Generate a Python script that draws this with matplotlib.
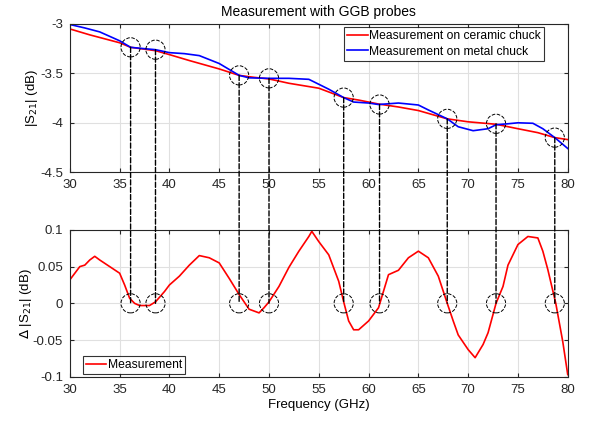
import matplotlib
matplotlib.use("Agg")
import matplotlib.pyplot as plt
from matplotlib.patches import ConnectionPatch

# top panel: |S21| on the two chucks
freq_ceramic = [30, 32, 35, 36.1, 38.6, 40, 42, 45, 47, 48.5, 50, 52, 55, 57.5,
                59, 60, 61, 63, 65, 67.9, 70, 72.8, 75, 77, 78.7, 80]
s21_ceramic = [-3.05, -3.11, -3.19, -3.236, -3.27, -3.31, -3.37, -3.455, -3.52,
               -3.54, -3.556, -3.6, -3.65, -3.745, -3.77, -3.79, -3.81, -3.84,
               -3.876, -3.96, -3.99, -4.015, -4.06, -4.1, -4.15, -4.17]
freq_metal = [30, 31.5, 33, 35, 36.1, 37.5, 38.6, 40, 41.5, 43, 44, 45, 46, 47,
              48, 50, 52, 54, 55, 56, 57.5, 58.5, 60, 61, 63, 65, 66, 67.9,
              69, 70.5, 72, 72.8, 74, 75, 76.5, 77.5, 78.7, 80]
s21_metal = [-3.005, -3.04, -3.08, -3.17, -3.236, -3.25, -3.26, -3.29, -3.3,
             -3.32, -3.36, -3.4, -3.46, -3.52, -3.545, -3.55, -3.55, -3.56,
             -3.61, -3.66, -3.745, -3.79, -3.8, -3.815, -3.8, -3.82, -3.87,
             -3.96, -4.04, -4.08, -4.06, -4.02, -4.01, -4.0, -4.005, -4.06,
             -4.15, -4.26]

# bottom panel: difference
freq_delta = [30, 30.5, 31, 31.5, 32, 32.5, 33, 34, 35, 35.5, 36, 36.5, 37, 38,
              38.6, 39.5, 40, 41, 42, 43, 44, 45, 46, 47, 48, 49, 49.5, 50, 51,
              52, 53, 54, 54.3, 55, 56, 57, 57.5, 58, 58.5, 59, 60, 61, 62, 63,
              64, 65, 66, 67, 67.9, 68.5, 69, 70, 70.7, 71.5, 72, 72.8, 73.5,
              74, 75, 76, 77, 77.5, 78, 78.8, 79.5, 80]
delta_s21 = [0.032, 0.041, 0.05, 0.052, 0.059, 0.064, 0.059, 0.05, 0.041, 0.025,
             0.007, 0.0, -0.003, -0.003, 0.002, 0.016, 0.025, 0.037, 0.052,
             0.065, 0.062, 0.055, 0.034, 0.012, -0.008, -0.013, -0.006, 0.002,
             0.023, 0.049, 0.071, 0.091, 0.098, 0.084, 0.066, 0.03, 0.002,
             -0.024, -0.036, -0.036, -0.024, -0.006, 0.039, 0.045, 0.062, 0.071,
             0.062, 0.037, 0.0, -0.024, -0.043, -0.063, -0.074, -0.056, -0.04,
             0.0, 0.023, 0.052, 0.08, 0.091, 0.089, 0.071, 0.046, 0.0, -0.052,
             -0.097]

# marked crossing points
mark_freq = [36.1, 38.6, 47.0, 50.0, 57.5, 61.1, 67.9, 72.8, 78.7]
mark_s21 = [-3.236, -3.26, -3.52, -3.55, -3.745, -3.815, -3.96, -4.01, -4.15]

plt.rcParams['font.family'] = ['Liberation Sans', 'DejaVu Sans']
plt.rcParams['axes.unicode_minus'] = False
plt.rcParams['font.size'] = 9.5

fig = plt.figure(figsize=(5.92, 4.21), dpi=100)
ax1 = fig.add_axes([0.118, 0.591, 0.841, 0.352])
ax2 = fig.add_axes([0.118, 0.105, 0.841, 0.349])

ax1.plot(freq_ceramic, s21_ceramic, color='red', lw=1.2,
         label='Measurement on ceramic chuck')
ax1.plot(freq_metal, s21_metal, color='blue', lw=1.2,
         label='Measurement on metal chuck')
ax1.set_xlim(30, 80)
ax1.set_ylim(-4.5, -3)
ax1.set_yticks([-4.5, -4, -3.5, -3])
ax1.set_yticklabels(['-4.5', '-4', '-3.5', '-3'])
ax1.set_ylabel('|S$_{21}$| (dB)', labelpad=0)
ax1.set_title('Measurement with GGB probes', fontsize=10, pad=6)
leg1 = ax1.legend(loc='upper right', bbox_to_anchor=(0.952, 0.98),
                  borderaxespad=0, fancybox=False, edgecolor='black',
                  handlelength=1.7, borderpad=0.25, labelspacing=0.3,
                  handletextpad=0.1, fontsize=8.7)
leg1.get_frame().set_linewidth(0.8)

ax2.plot(freq_delta, delta_s21, color='red', lw=1.2, label='Measurement')
ax2.set_xlim(30, 80)
ax2.set_ylim(-0.1, 0.1)
ax2.set_yticks([-0.1, -0.05, 0, 0.05, 0.1])
ax2.set_yticklabels(['-0.1', '-0.05', '0', '0.05', '0.1'])
ax2.set_ylabel('$\\Delta$ |S$_{21}$| (dB)', labelpad=-1)
ax2.set_xlabel('Frequency (GHz)', labelpad=2)
leg2 = ax2.legend(loc='lower left', bbox_to_anchor=(0.026, 0.02),
                  borderaxespad=0, fancybox=False, edgecolor='black',
                  handlelength=1.7, borderpad=0.25, handletextpad=0.1,
                  fontsize=8.7)
leg2.get_frame().set_linewidth(0.8)

for ax in (ax1, ax2):
    ax.set_xticks(range(30, 81, 5))
    ax.grid(True, color='#e0e0e0', lw=0.8)
    ax.set_axisbelow(True)
    ax.tick_params(direction='in', top=True, right=True, length=3, pad=5,
                   colors='#262626', labelcolor='#262626')
    for sp in ax.spines.values():
        sp.set_color('#262626')
        sp.set_linewidth(0.8)

ax1.scatter(mark_freq, mark_s21, s=190, facecolors='none', edgecolors='black',
            linestyle='--', linewidths=0.7, zorder=5)
ax2.scatter(mark_freq, [0.0] * len(mark_freq), s=190, facecolors='none',
            edgecolors='black', linestyle='--', linewidths=0.7, zorder=5)

for f, s in zip(mark_freq, mark_s21):
    con = ConnectionPatch(xyA=(f, s), coordsA=ax1.transData,
                          xyB=(f, 0.0), coordsB=ax2.transData,
                          color='black', linestyle='--', lw=1.0)
    fig.add_artist(con)

fig.savefig('out.png', dpi=100)
